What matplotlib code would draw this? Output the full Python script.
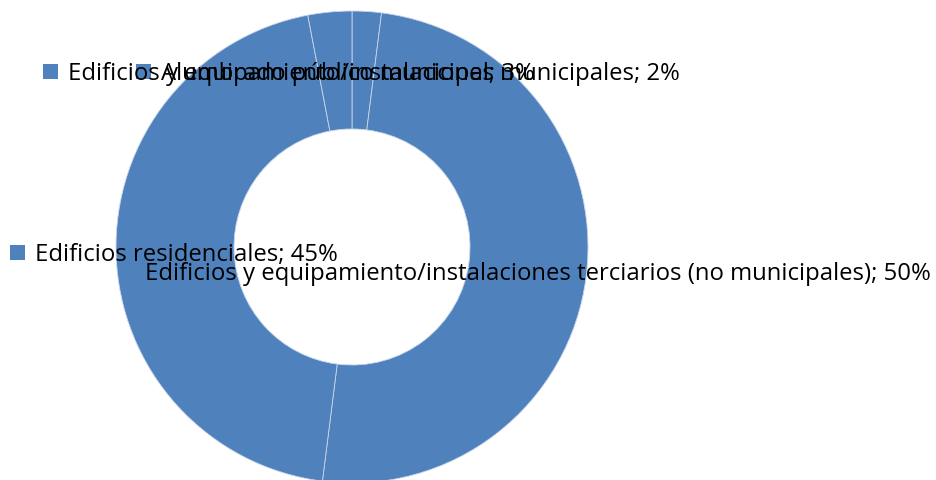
import matplotlib
matplotlib.use("Agg")
import matplotlib.pyplot as plt
from matplotlib.patches import Rectangle

# slices, clockwise from 12 o'clock
labels = [
    "Edificios y equipamiento/instalaciones municipales",
    "Edificios y equipamiento/instalaciones terciarios (no municipales)",
    "Edificios residenciales",
    "Alumbrado público municipal",
]
values = [2, 50, 45, 3]

blue = "#4F81BD"
W, H = 936, 481

fig = plt.figure(figsize=(W / 100, H / 100), dpi=100)
ax = fig.add_axes([0, 0, 1, 1])

# donut centre at (352, 248) px, outer radius 236 px
r = 236.0
cx, cy = 352.0, 248.0

ax.pie(values, colors=[blue] * len(values), startangle=90, counterclock=False,
       radius=1, frame=True,
       wedgeprops=dict(width=0.5, edgecolor="#c9d6ea", linewidth=0.6))
ax.set_xlim(-cx / r, (W - cx) / r)
ax.set_ylim(-(H - cy) / r, cy / r)
ax.axis("off")


def px(x, y):
    return x / W, 1 - y / H


# data label positions (square left x, text centre y)
label_pos = [(43, 72), (120, 273), (10, 253), (136, 72)]

for lab, v, (x, y) in zip(labels, values, label_pos):
    fx, fy = px(x, y + 7.5)
    fig.patches.append(Rectangle((fx, fy), 15 / W, 15 / H, transform=fig.transFigure,
                                 facecolor=blue, edgecolor="none", zorder=5))
    tx, ty = px(x + 25, y + 1.5)
    fig.text(tx, ty, f"{lab}; {v}%", ha="left", va="center", fontsize=17.2,
             family="Open Sans", color="black", zorder=6)

fig.savefig("out.png", dpi=100)
